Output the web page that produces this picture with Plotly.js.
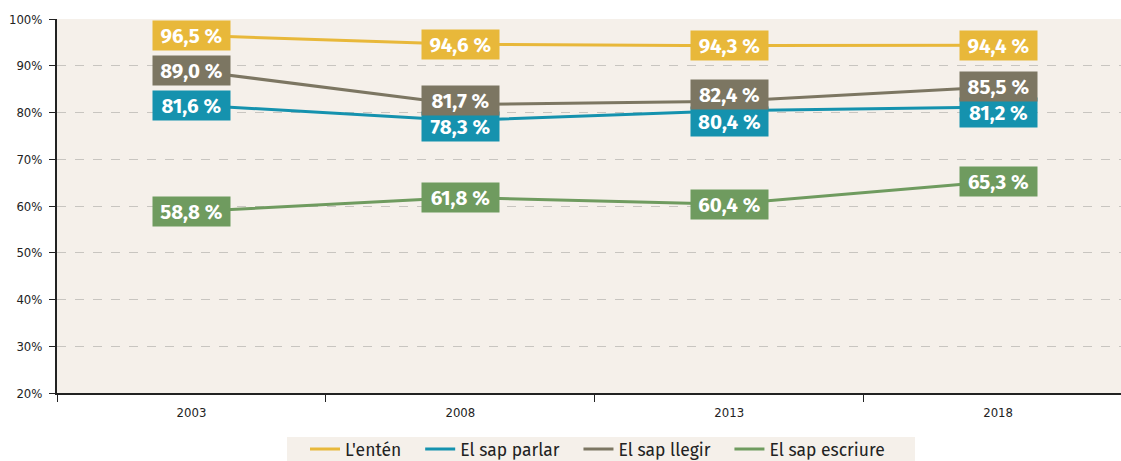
<!DOCTYPE html>
<html><head><meta charset="utf-8">
<script src="https://cdn.plot.ly/plotly-3.0.1.min.js"></script>
<style>html,body{margin:0;padding:0;background:#fff}#c{width:1121px;height:461px}</style>
</head><body><div id="c"></div><pre id="err" style="position:absolute;top:0;left:300px;color:red"></pre>
<script>
const years = ["2003", "2008", "2013", "2018"];
const names = ["L'entén", "El sap parlar", "El sap llegir", "El sap escriure"];
const entenValues = [96.5, 94.6, 94.3, 94.4];
const parlarValues = [81.6, 78.3, 80.4, 81.2];
const llegirValues = [89.0, 81.7, 82.4, 85.5];
const escriureValues = [58.8, 61.8, 60.4, 65.3];
const yTicks = [20, 30, 40, 50, 60, 70, 80, 90, 100];

try {
const series = [entenValues, parlarValues, llegirValues, escriureValues];
const colors = ["#e8b83a", "#1592ae", "#7c7662", "#6f9b5f"];
const shifts = [
  [0, 0, 0, 0],
  [0, -6, -11, -6],
  [0, 4, 7, 0],
  [0, 0, 0, 0]
];

const traces = series.map((s, i) => ({
  x: years, y: s, name: names[i] + "\u00a0\u00a0\u00a0", type: "scatter", mode: "lines",
  line: {color: colors[i], width: 3}
}));

const annotations = [];
series.forEach((s, i) => {
  s.forEach((v, j) => {
    annotations.push({
      x: j, y: v, xref: "x", yref: "y",
      text: "<b>" + v.toFixed(1).replace(".", ",") + " %</b>",
      showarrow: false, bgcolor: colors[i], width: 73, height: 25, borderpad: 2,
      yshift: shifts[i][j],
      font: {family: "Fira Sans, DejaVu Sans", size: 20.5, color: "#ffffff"}
    });
  });
});

const layout = {
  width: 1121, height: 461,
  margin: {l: 57, r: 0, t: 19, b: 68, autoexpand: false},
  paper_bgcolor: "#ffffff", plot_bgcolor: "#f5f0ea",
  showlegend: true,
  legend: {orientation: "h", x: (305 - 57) / 1064, xanchor: "left", y: -0.102, yanchor: "top",
    bgcolor: "rgba(0,0,0,0)", font: {family: "Fira Sans, DejaVu Sans", size: 17.5, color: "#222"},
    traceorder: "normal"},
  shapes: [{type: "rect", xref: "paper", yref: "paper", layer: "below",
    x0: (287 - 57) / 1064, x1: (915 - 57) / 1064, y0: -(437 - 393) / 374, y1: -(470 - 393) / 374,
    fillcolor: "#f5f0ea", line: {width: 0}}],
  xaxis: {type: "category", range: [-0.5, 3.457], showgrid: false,
    showline: true, linecolor: "#222", linewidth: 2, ticks: "outside", tickson: "boundaries",
    ticklen: 7, tickcolor: "#222", ticklabelstandoff: 6,
    tickfont: {family: "DejaVu Sans Condensed", size: 13, color: "#222"}},
  yaxis: {range: [20, 100], tickvals: yTicks, ticktext: yTicks.map(v => v + "%"),
    showgrid: true, gridcolor: "#c8c5c0", griddash: "dash", gridwidth: 1,
    showline: true, linecolor: "#222", linewidth: 2, ticks: "outside", ticklen: 6, tickcolor: "#222",
    ticklabelstandoff: 4,
    tickfont: {family: "DejaVu Sans Condensed", size: 13, color: "#222"}, zeroline: false},
  annotations: annotations
};
Plotly.newPlot("c", traces, layout, {displayModeBar: false}).catch(e => {document.getElementById("err").textContent = String(e);});
} catch (e) { document.getElementById("err").textContent = String(e); }
</script></body></html>
